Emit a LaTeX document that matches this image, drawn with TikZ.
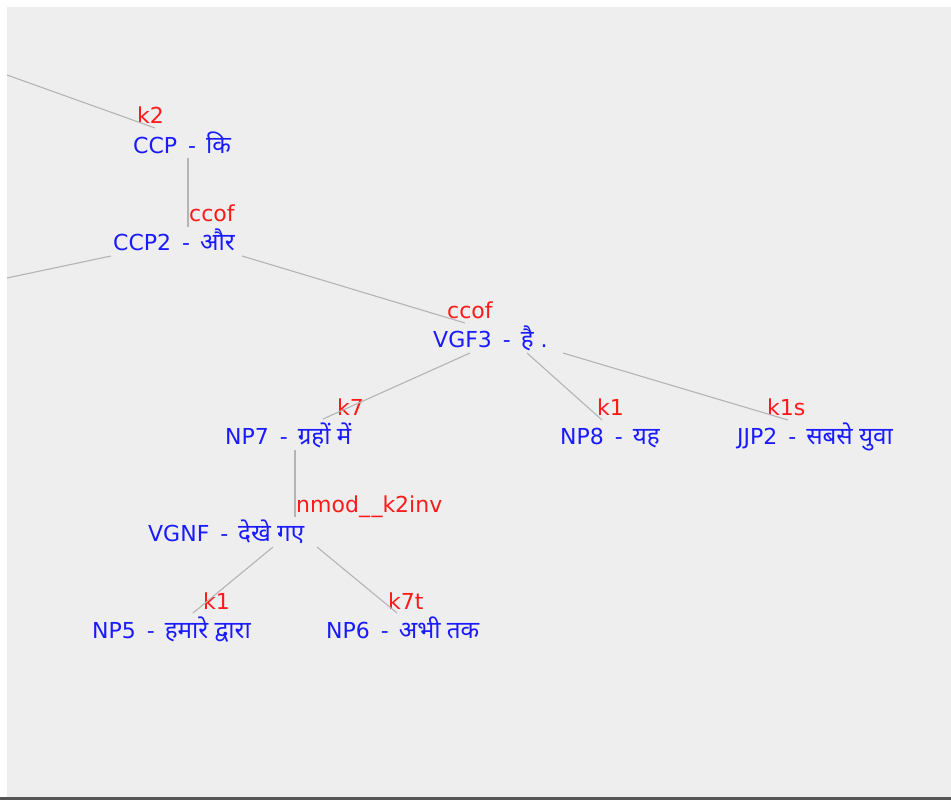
\documentclass[tikz,border=0pt]{standalone}
\usepackage{fontspec}
\setmainfont{DejaVu Sans}
\newfontfamily\deva[Script=Devanagari,Scale=1.1]{Noto Sans}
\definecolor{bgc}{HTML}{EEEEEE}
\definecolor{tokc}{HTML}{1A1AFF}
\definecolor{labc}{HTML}{FF1A1A}
\definecolor{edgec}{HTML}{B4B4B4}
\definecolor{barc}{HTML}{555555}
\newcommand{\sep}{\hspace{0.5em}-\hspace{0.45em}}
\begin{document}
\begin{tikzpicture}[x=1pt,y=-1pt,
  tok/.style={anchor=base west,inner sep=0pt,text=tokc,font=\fontsize{22}{26}\selectfont},
  lab/.style={anchor=base west,inner sep=0pt,text=labc,font=\fontsize{22}{26}\selectfont},
  edge/.style={draw=edgec,line width=1.1pt}]
\useasboundingbox (0,0) rectangle (951,800);
\fill[white] (0,0) rectangle (951,800);
\fill[bgc] (7,7) rectangle (951,797);
\fill[barc] (0,797) rectangle (951,800);

% nodes
\node[tok] (ccp) at (133,153) {CCP\sep{\deva कि}};
\node[lab] (k2) at (137,124) {k2};
\node[tok] (ccp2) at (113,250) {CCP2\sep{\deva और}};
\node[lab] (ccof1) at (189,221) {ccof};
\node[tok] (vgf3) at (433,347) {VGF3\sep{\deva है} .};
\node[lab] (ccof2) at (447,318) {ccof};
\node[tok] (np7) at (225,444) {NP7\sep{\deva ग्रहों में}};
\node[lab] (k7) at (337,415) {k7};
\node[tok] (np8) at (560,444) {NP8\sep{\deva यह}};
\node[lab] (k1a) at (597,415) {k1};
\node[tok] (jjp2) at (737,444) {JJP2\sep{\deva सबसे युवा}};
\node[lab] (k1s) at (767,415) {k1s};
\node[tok] (vgnf) at (148,541) {VGNF\sep{\deva देखे गए}};
\node[lab] (nmod) at (296,512) {nmod\_\kern1.5pt\_k2inv};
\node[tok] (np5) at (92,638) {NP5\sep{\deva हमारे द्वारा}};
\node[lab] (k1b) at (203,609) {k1};
\node[tok] (np6) at (326,638) {NP6\sep{\deva अभी तक}};
\node[lab] (k7t) at (388,609) {k7t};

% edge end points
\coordinate (offA) at (7,75);      \coordinate (ccpIn) at (155,128);
\coordinate (ccpOut) at (188,158); \coordinate (ccp2In) at (188,227);
\coordinate (offB) at (7,278);     \coordinate (ccp2OutL) at (111,256);
\coordinate (ccp2OutR) at (242,256); \coordinate (vgf3In) at (465,323);
\coordinate (vgf3Out1) at (470,353); \coordinate (np7In) at (323,419);
\coordinate (vgf3Out2) at (527,353); \coordinate (np8In) at (602,420);
\coordinate (vgf3Out3) at (563,353); \coordinate (jjp2In) at (788,420);
\coordinate (np7Out) at (295,450); \coordinate (vgnfIn) at (295,517);
\coordinate (vgnfOut1) at (273,547); \coordinate (np5In) at (193,613);
\coordinate (vgnfOut2) at (317,547); \coordinate (np6In) at (397,613);

% edges
\draw[edge] (offA) -- (ccpIn);
\draw[edge] (ccpOut) -- (ccp2In);
\draw[edge] (offB) -- (ccp2OutL);
\draw[edge] (ccp2OutR) -- (vgf3In);
\draw[edge] (vgf3Out1) -- (np7In);
\draw[edge] (vgf3Out2) -- (np8In);
\draw[edge] (vgf3Out3) -- (jjp2In);
\draw[edge] (np7Out) -- (vgnfIn);
\draw[edge] (vgnfOut1) -- (np5In);
\draw[edge] (vgnfOut2) -- (np6In);
\end{tikzpicture}
\end{document}
